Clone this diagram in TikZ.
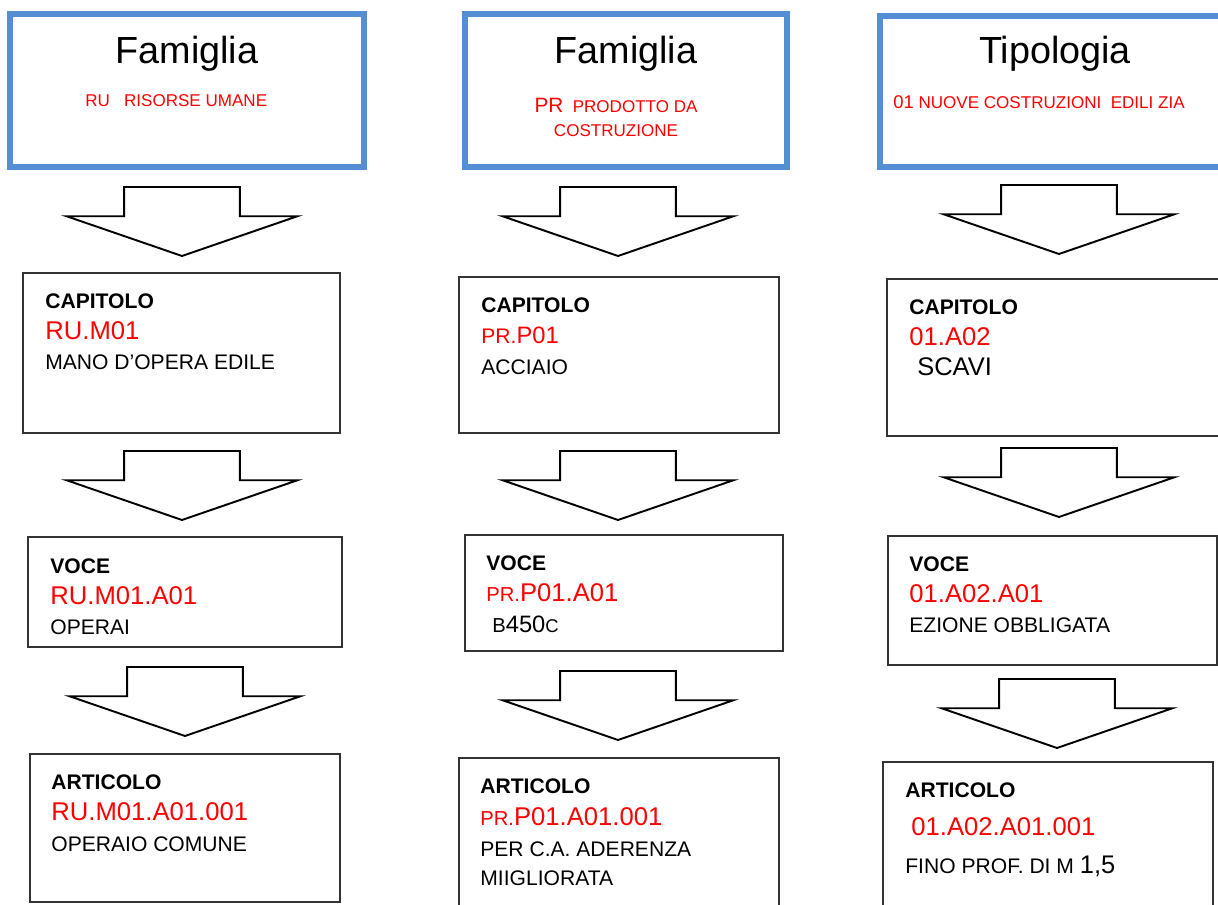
\documentclass[tikz,border=0pt]{standalone}
\usepackage{fontspec}
\setmainfont{Liberation Sans}
\usetikzlibrary{shapes.arrows}
\definecolor{boxblue}{RGB}{85,142,213}
\newcommand{\atsize}[2]{{\fontsize{#1}{#1}\selectfont #2}}

\begin{document}
\begin{tikzpicture}[
    x=0.02cm, y=-0.02cm,
    topbox/.style={draw=boxblue,line width=3.4pt,inner sep=0pt},
    levelbox/.style={draw=black!80,line width=0.8pt,inner sep=0pt},
    blockarrow/.style={
      single arrow,
      draw=black,
      fill=white,
      line width=1.1pt,
      shape border rotate=270,
      minimum height=1.38cm,
      minimum width=4.58cm,
      single arrow head extend=1.15cm,
      single arrow tip angle=142,
      inner xsep=1.14cm,
      inner ysep=0pt,
      anchor=tip
    },
    title/.style={inner sep=0pt,anchor=base,font=\fontsize{21.5}{24}\selectfont},
    family/.style={inner sep=0pt,text=red,font=\fontsize{9.7}{11}\selectfont},
    level/.style={inner sep=0pt,anchor=base west,font=\fontsize{12}{14}\selectfont\bfseries},
    code/.style={inner sep=0pt,anchor=base west,text=red,font=\fontsize{14.6}{17}\selectfont},
    desc/.style={inner sep=0pt,anchor=base west,font=\fontsize{12}{14}\selectfont}
  ]
    \path[use as bounding box,clip] (0,0) rectangle (1218,904);

    % top row
    \node[topbox,minimum width=7.08cm,minimum height=3.06cm] (fam1) at (187,90.5) {};
    \node[topbox,minimum width=6.44cm,minimum height=3.06cm] (fam2) at (626,90.5) {};
    \node[topbox,minimum width=7.2cm,minimum height=3.02cm] (tip3) at (1060,91.5) {};

    \node[title] (fam1-title) at (187,63) {Famiglia};
    \node[family,anchor=base west] (fam1-code) at (85,106) {RU\ \ \ RISORSE UMANE};
    \node[title] (fam2-title) at (626,63) {Famiglia};
    \node[family,anchor=base] (fam2-code) at (616,112) {\atsize{11.8}{PR}\ \ PRODOTTO DA};
    \node[family,anchor=base] (fam2-name) at (616,136) {COSTRUZIONE};
    \node[title] (tip3-title) at (1055,63) {Tipologia};
    \node[family,anchor=base west] (tip3-code) at (893,108) {\atsize{10.5}{01} NUOVE COSTRUZIONI\ \ EDILI ZIA};

    % level boxes
    \node[levelbox,minimum width=6.34cm,minimum height=3.2cm] (cap1) at (181.5,353) {};
    \node[levelbox,minimum width=6.4cm,minimum height=3.12cm] (cap2) at (619,355) {};
    \node[levelbox,minimum width=7.06cm,minimum height=3.14cm] (cap3) at (1063.5,357.5) {};
    \node[levelbox,minimum width=6.28cm,minimum height=2.2cm] (voce1) at (185,592) {};
    \node[levelbox,minimum width=6.36cm,minimum height=2.32cm] (voce2) at (624,593) {};
    \node[levelbox,minimum width=6.58cm,minimum height=2.58cm] (voce3) at (1052.5,600.5) {};
    \node[levelbox,minimum width=6.2cm,minimum height=2.96cm] (art1) at (185,828) {};
    \node[levelbox,minimum width=6.4cm,minimum height=3.08cm] (art2) at (619,835) {};
    \node[levelbox,minimum width=6.6cm,minimum height=3.0cm] (art3) at (1048,837) {};

    % block arrows
    \foreach \x/\y [count=\i] in {182/257,618/257,1059/255,182/521,618/521,1059/518,185/737,618/741,1057/749}
      \node[blockarrow] (flow\i) at (\x,\y) {};

    % first column
    \node[level] (cap1-head) at (45,308) {CAPITOLO};
    \node[code] (cap1-code) at (45,339) {RU.M01};
    \node[desc] (cap1-desc) at (45,369) {MANO D’OPERA EDILE};
    \node[level] (voce1-head) at (50,573) {VOCE};
    \node[code] (voce1-code) at (50,604) {RU.M01.A01};
    \node[desc] (voce1-desc) at (50,634) {OPERAI};
    \node[level] (art1-head) at (51,789) {ARTICOLO};
    \node[code] (art1-code) at (51,820) {RU.M01.A01.001};
    \node[desc] (art1-desc) at (51,851) {OPERAIO COMUNE};

    % second column
    \node[level] (cap2-head) at (481,312) {CAPITOLO};
    \node[code] (cap2-code) at (481,343) {\atsize{12}{PR.}\atsize{13.5}{P01}};
    \node[desc] (cap2-desc) at (481,374) {ACCIAIO};
    \node[level] (voce2-head) at (486,570) {VOCE};
    \node[code] (voce2-code) at (486,601) {\atsize{11.5}{PR.}P01.A01};
    \node[desc] (voce2-desc) at (492,632) {\atsize{11.5}{B}\atsize{13.5}{450}\atsize{10.5}{C}};
    \node[level] (art2-head) at (480,793) {ARTICOLO};
    \node[code] (art2-code) at (480,825) {\atsize{11.5}{PR.}P01.A01.001};
    \node[desc] (art2-desc) at (480,856) {PER C.A. ADERENZA};
    \node[desc] (art2-more) at (480,885) {MIIGLIORATA};

    % third column
    \node[level] (cap3-head) at (909,314) {CAPITOLO};
    \node[code] (cap3-code) at (909,345) {01.A02};
    \node[desc,font=\fontsize{14.5}{17}\selectfont] (cap3-desc) at (917,375) {SCAVI};
    \node[level] (voce3-head) at (909,571) {VOCE};
    \node[code] (voce3-code) at (909,602) {01.A02.A01};
    \node[desc] (voce3-desc) at (909,632) {EZIONE OBBLIGATA};
    \node[level] (art3-head) at (905,797) {ARTICOLO};
    \node[code] (art3-code) at (911,835) {01.A02.A01.001};
    \node[desc] (art3-desc) at (905,873) {FINO PROF. DI M \atsize{14.5}{1,5}};
  \end{tikzpicture}
\end{document}
